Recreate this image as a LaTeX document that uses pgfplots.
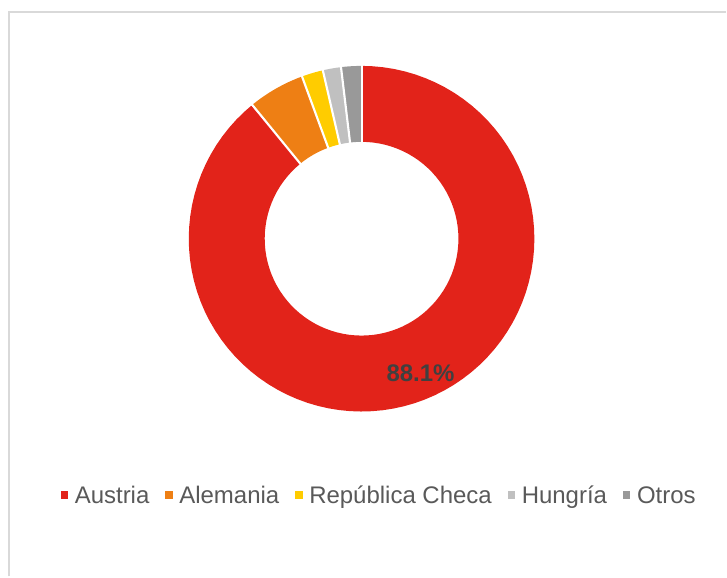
\documentclass[border=0pt]{standalone}
\usepackage{pgfplots}
\pgfplotsset{compat=1.18}
\usepackage{pgfplotstable}
\usepackage{fontspec}
\setmainfont{Liberation Sans}
\definecolor{cAustria}{HTML}{E2231A}
\definecolor{cAlemania}{HTML}{EE7F14}
\definecolor{cCheca}{HTML}{FFCC00}
\definecolor{cHungria}{HTML}{C0C0C0}
\definecolor{cOtros}{HTML}{999999}
\definecolor{txt}{HTML}{595959}
\definecolor{lbl}{HTML}{404040}
\definecolor{frame}{HTML}{D9D9D9}

% share (%) of each country, clockwise from the top
\pgfplotstableread{
valor color
89.1 cAustria
5.3 cAlemania
2.0 cCheca
1.7 cHungria
1.9 cOtros
}\datos

\pgfplotsset{sq/.style={fill=#1, draw=none, legend image code/.code={\path[fill] (0pt,-1pt) rectangle (5.5pt,4.5pt); \path (8.5pt,0pt);}}}

\begin{document}
\begin{tikzpicture}
\begin{axis}[
  x=0.75pt, y=0.75pt,
  xmin=0, xmax=727, ymin=0, ymax=577,
  scale only axis, hide axis, clip=false,
  legend style={at={(axis cs:380,79)}, anchor=center, draw=none, fill=none,
    font=\fontsize{18}{21}\selectfont\color{txt},
    nodes={text height=13pt, text depth=4pt},
    /tikz/every even column/.append style={column sep=10pt},
    legend columns=-1},
]
\path (axis cs:0,0) rectangle (axis cs:727,577);
\draw[frame, line width=1.3pt] (axis cs:9,0) -- (axis cs:9,565) -- (axis cs:727,565);

\pgfplotstablegetrowsof{\datos}
\pgfmathtruncatemacro\last{\pgfplotsretval-1}
\gdef\cum{0}
\pgfplotsforeachungrouped \i in {0,...,\last}{%
  \pgfplotstablegetelem{\i}{valor}\of\datos \let\v\pgfplotsretval
  \pgfplotstablegetelem{\i}{color}\of\datos \let\c\pgfplotsretval
  \pgfmathsetmacro\a{90-3.6*\cum}%
  \pgfmathsetmacro\newcum{\cum+\v}%
  \xdef\cum{\newcum}%
  \pgfmathsetmacro\b{90-3.6*\cum}%
  \edef\temp{\noexpand\addplot[draw=\c, line width=57pt, domain=\b:\a, samples=90, variable=\noexpand\t, forget plot]
    ({362+135*cos(\noexpand\t)},{338+135*sin(\noexpand\t)});}%
  \temp
}
\gdef\cum{0}
\pgfplotsforeachungrouped \i in {0,...,\last}{%
  \pgfplotstablegetelem{\i}{valor}\of\datos \let\v\pgfplotsretval
  \pgfmathsetmacro\a{90-3.6*\cum}%
  \pgfmathsetmacro\newcum{\cum+\v}%
  \xdef\cum{\newcum}%
  \pgfmathsetmacro\xa{362+95*cos(\a)}\pgfmathsetmacro\ya{338+95*sin(\a)}%
  \pgfmathsetmacro\xb{362+177*cos(\a)}\pgfmathsetmacro\yb{338+177*sin(\a)}%
  \edef\temp{\noexpand\addplot[white, line width=1.6pt, forget plot] coordinates {(\xa,\ya) (\xb,\yb)};}%
  \temp
}

\node[font=\fontsize{18}{21}\selectfont\bfseries, text=lbl] at (axis cs:421,203) {88.1\%};

\addlegendimage{sq=cAustria}
\addlegendentry{Austria}
\addlegendimage{sq=cAlemania}
\addlegendentry{Alemania}
\addlegendimage{sq=cCheca}
\addlegendentry{República Checa}
\addlegendimage{sq=cHungria}
\addlegendentry{Hungría}
\addlegendimage{sq=cOtros}
\addlegendentry{Otros}
\end{axis}
\end{tikzpicture}
\end{document}
